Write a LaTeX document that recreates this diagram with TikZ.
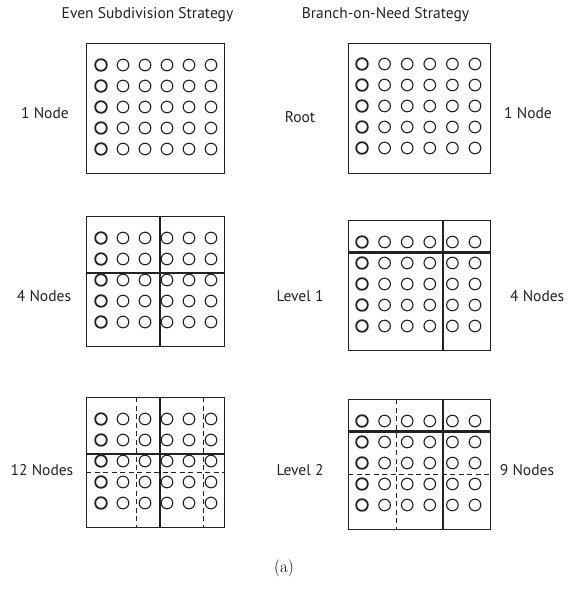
\documentclass[tikz,border=0pt]{standalone}
\usepackage{fontspec}
\setsansfont{PT Sans}
\definecolor{ink}{HTML}{222222}
\newcommand\dotgrid[4]{% x0 y0 dx dy
  \foreach \j in {0,...,4}{
    \draw[dotb] (#1,{#2+\j*#4}) circle[radius=5.8];
    \foreach \i in {1,...,5}{
      \draw[dot] ({#1+\i*#3},{#2+\j*#4}) circle[radius=5.8];
    }
  }
}
\begin{document}
\begin{tikzpicture}[x=1pt,y=-1pt,
  box/.style={draw=ink, line width=1pt},
  thickdiv/.style={draw=ink, line width=2.7pt},
  dashdiv/.style={draw=ink, line width=1pt, dash pattern=on 5pt off 3.5pt},
  dot/.style={draw=ink, line width=1.1pt},
  dotb/.style={draw=ink, line width=1.8pt},
  lbl/.style={font=\sffamily\fontsize{15.5}{18}\selectfont, text=ink, inner sep=0pt}]
\useasboundingbox (0,0) rectangle (568,603);

% titles
\node[lbl] (t1) at (147.5,15) {Even Subdivision Strategy};
\node[lbl] (t2) at (385.5,15) {Branch-on-Need Strategy};

% row labels
\node[lbl] (l1) at (45,113) {1 Node};
\node[lbl] (c1) at (300,117) {Root};
\node[lbl] (r1) at (528,113) {1 Node};
\node[lbl] (l2) at (44,296) {4 Nodes};
\node[lbl] (c2) at (300,296) {Level 1};
\node[lbl,anchor=west] (r2) at (510,296) {4 Nodes};
\node[lbl] (l3) at (42,470) {12 Nodes};
\node[lbl] (c3) at (300,470) {Level 2};
\node[lbl] (r3) at (527,470) {9 Nodes};
\node[font=\fontsize{17}{20}\selectfont, inner sep=0pt] (cap) at (284,568) {(a)};

% ---------- top row ----------
\dotgrid{101}{65}{22}{21}
\draw[box] (86,43) rectangle (224,173);
\dotgrid{362}{64}{22.6}{21}
\draw[box] (348,43) rectangle (490,173);

% ---------- middle row ----------
\dotgrid{101}{238}{22}{21}
\draw[thickdiv] (160,216) -- (160,346);
\draw[thickdiv] (86,273) -- (224,273);
\draw[box] (86,216) rectangle (224,346);

\dotgrid{362}{242}{22.6}{21}
\draw[thickdiv] (443,220) -- (443,350);
\draw[thickdiv] (348,252.5) -- (490,252.5);
\draw[box] (348,220) rectangle (490,350);

% ---------- bottom row ----------
\dotgrid{101}{419}{22}{21}
\draw[dashdiv] (136,397) -- (136,527);
\draw[dashdiv] (203,397) -- (203,527);
\draw[dashdiv] (86,472.5) -- (224,472.5);
\draw[thickdiv] (160,397) -- (160,527);
\draw[thickdiv] (86,454) -- (224,454);
\draw[box] (86,397) rectangle (224,527);

\dotgrid{362}{421}{22.6}{21}
\draw[dashdiv] (396,399) -- (396,529);
\draw[dashdiv] (348,474.5) -- (490,474.5);
\draw[thickdiv] (443,399) -- (443,529);
\draw[thickdiv] (348,431.5) -- (490,431.5);
\draw[box] (348,399) rectangle (490,529);
\end{tikzpicture}
\end{document}
